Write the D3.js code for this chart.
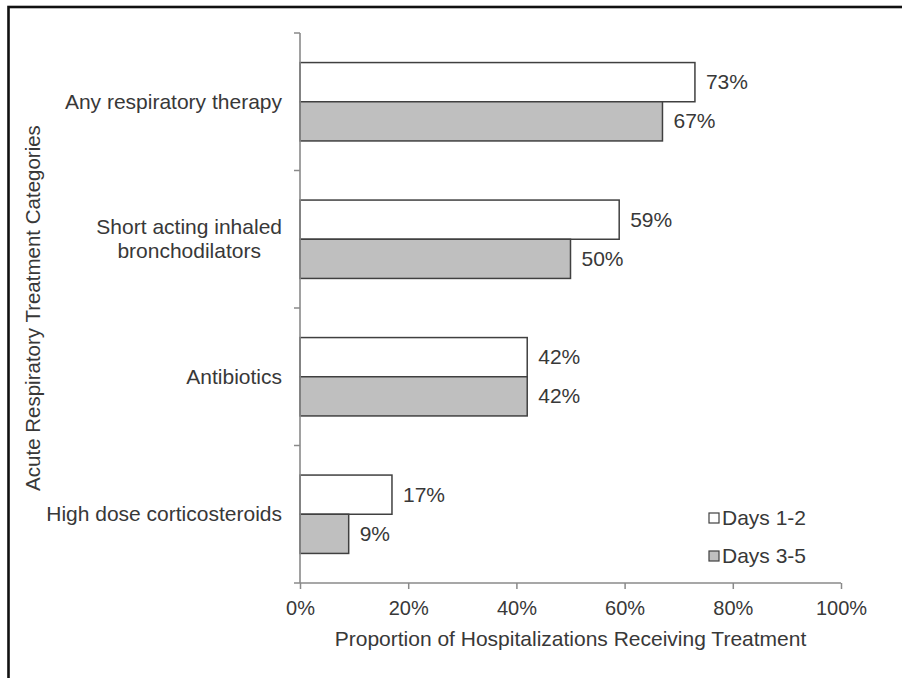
<!DOCTYPE html>
<html>
<head>
<meta charset="utf-8">
<script src="https://cdn.jsdelivr.net/npm/d3@7/dist/d3.min.js"></script>
<style>
  html, body { margin: 0; padding: 0; background: #fff; }
  svg { display: block; }
  text { font-family: "Liberation Sans", Arial, sans-serif; fill: #383838; }
</style>
</head>
<body>
<svg id="chart" width="902" height="678"></svg>
<script>
// Treatment categories (top to bottom); "\n" marks a wrapped label line
const categories = [
  "Any respiratory therapy",
  "Short acting inhaled\nbronchodilators",
  "Antibiotics",
  "High dose corticosteroids"
];
const seriesNames = ["Days 1-2", "Days 3-5"];
const days12 = [73, 59, 42, 17];   // % of hospitalizations, days 1-2
const days35 = [67, 50, 42, 9];    // % of hospitalizations, days 3-5
const xTickValues = [0, 20, 40, 60, 80, 100];
const xTitle = "Proportion of Hospitalizations Receiving Treatment";
const yTitle = "Acute Respiratory Treatment Categories";

const seriesValues = [days12, days35];
const fills = ["#ffffff", "#bfbfbf"];

const W = 902, H = 678;
const plot = { left: 300, right: 841, top: 33, bottom: 583 };

const svg = d3.select("#chart");

// outer frame (only the top and left edges fall inside the view)
svg.append("rect")
  .attr("x", 8.5).attr("y", 7)
  .attr("width", W + 20).attr("height", H + 20)
  .attr("fill", "none").attr("stroke", "#111").attr("stroke-width", 2.6);

const x = d3.scaleLinear().domain([0, 100]).range([plot.left, plot.right]);

const y = d3.scaleBand()
  .domain(categories)
  .range([plot.top, plot.bottom])
  .paddingInner(0.43)
  .paddingOuter(0.215);

const ySeries = d3.scaleBand()
  .domain(seriesNames)
  .range([0, y.bandwidth()]);

const rows = categories.map((c, i) => ({
  category: c,
  values: seriesNames.map((s, j) => ({ series: s, value: seriesValues[j][i], idx: j }))
}));

// bars
const groups = svg.append("g").selectAll("g")
  .data(rows).join("g")
  .attr("transform", d => `translate(0,${y(d.category)})`);

groups.selectAll("rect")
  .data(d => d.values).join("rect")
  .attr("x", x(0))
  .attr("y", d => ySeries(d.series))
  .attr("width", d => x(d.value) - x(0))
  .attr("height", ySeries.bandwidth())
  .attr("fill", d => fills[d.idx])
  .attr("stroke", "#404040")
  .attr("stroke-width", 1.5);

// value labels
groups.selectAll("text.val")
  .data(d => d.values).join("text")
  .attr("class", "val")
  .attr("x", d => x(d.value) + 11)
  .attr("y", d => ySeries(d.series) + ySeries.bandwidth() / 2 + 7)
  .attr("font-size", 21)
  .text(d => d.value + "%");

// x axis
const xAxis = d3.axisBottom(x)
  .tickValues(xTickValues)
  .tickSize(6)
  .tickSizeOuter(0)
  .tickFormat(d => d + "%");

const gx = svg.append("g")
  .attr("transform", `translate(0,${plot.bottom})`)
  .call(xAxis);
gx.select(".domain").attr("stroke", "#8a8a8a").attr("stroke-width", 1.6)
  .attr("d", `M${plot.left - 6},0H${plot.right}`);
gx.selectAll(".tick line").attr("stroke", "#8a8a8a").attr("stroke-width", 1.5);
gx.selectAll(".tick text")
  .attr("y", 32)
  .attr("dy", 0)
  .attr("font-size", 20)
  .attr("font-family", "Liberation Sans, Arial, sans-serif")
  .attr("fill", "#383838");

// y axis: line plus tick marks at category boundaries
const boundaries = d3.range(categories.length + 1).map(i => plot.top + i * y.step());
const gy = svg.append("g");
gy.append("line")
  .attr("x1", plot.left).attr("x2", plot.left)
  .attr("y1", plot.top).attr("y2", plot.bottom)
  .attr("stroke", "#8a8a8a").attr("stroke-width", 1.6);
gy.selectAll("line.tick")
  .data(boundaries.slice(0, -1)).join("line")
  .attr("class", "tick")
  .attr("x1", plot.left - 6).attr("x2", plot.left)
  .attr("y1", d => d).attr("y2", d => d)
  .attr("stroke", "#8a8a8a").attr("stroke-width", 1.5);

// category labels: each block right-aligned to the axis, lines centred within it
const labelRight = plot.left - 18;
const lineGap = 24;
categories.forEach(c => {
  const lines = c.split("\n");
  const cy = y(c) + y.bandwidth() / 2;
  const t = svg.append("text")
    .attr("font-size", 21)
    .attr("text-anchor", "middle");
  lines.forEach((ln, k) => {
    t.append("tspan")
      .attr("y", cy + 7 + (k - (lines.length - 1) / 2) * lineGap)
      .text(ln);
  });
  const maxW = d3.max(t.selectAll("tspan").nodes(), n => n.getComputedTextLength());
  t.selectAll("tspan").attr("x", labelRight - maxW / 2);
});

// axis titles
svg.append("text")
  .attr("x", (plot.left + plot.right) / 2)
  .attr("y", 646)
  .attr("text-anchor", "middle")
  .attr("font-size", 21)
  .text(xTitle);

svg.append("text")
  .attr("transform", `translate(40,${(plot.top + plot.bottom) / 2}) rotate(-90)`)
  .attr("text-anchor", "middle")
  .attr("font-size", 20.5)
  .text(yTitle);

// legend
const legend = svg.append("g").attr("transform", "translate(709,518)");
const legendRow = 38;
seriesNames.forEach((s, i) => {
  const g = legend.append("g").attr("transform", `translate(0,${i * legendRow})`);
  g.append("rect")
    .attr("x", 0).attr("y", -5)
    .attr("width", 10).attr("height", 10)
    .attr("fill", fills[i])
    .attr("stroke", "#404040").attr("stroke-width", 1.2);
  g.append("text")
    .attr("x", 13).attr("y", 7)
    .attr("font-size", 21)
    .text(s);
});
</script>
</body>
</html>
